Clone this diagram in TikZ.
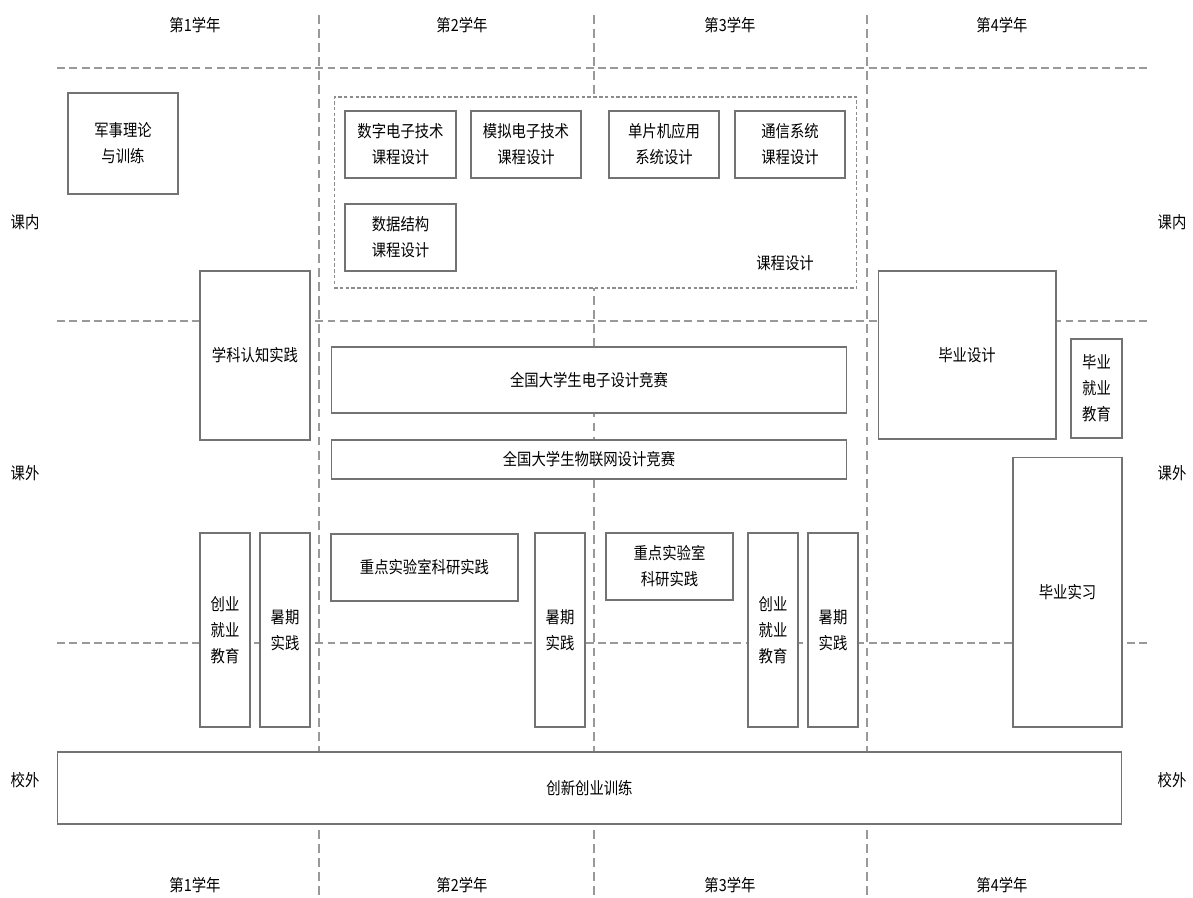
\documentclass[tikz,border=0pt]{standalone}
\usepackage{fontspec}
\setmainfont{Noto Sans CJK SC}[FakeStretch=0.86]
\usepackage{tikz}
\usetikzlibrary{calc}

\begin{document}
\begin{tikzpicture}[x=0.02cm,y=-0.02cm,
    txt/.style={font=\fontsize{9.5}{14.8}\selectfont,align=center,inner sep=0pt},
    box/.style={txt,draw=black!55,line width=0.6pt,fill=white,outer sep=0pt},
    grid/.style={draw=black!40,line width=0.6pt,dash pattern=on 4.5pt off 2.5pt}]
    \useasboundingbox (0,0) rectangle (1193,898);
    % year columns and rows
    \draw[grid,dash pattern=on 5pt off 3pt] (319,15) -- (319,898);
    \draw[grid,dash pattern=on 5pt off 3pt] (594,15) -- (594,898);
    \draw[grid,dash pattern=on 5pt off 3pt] (867,15) -- (867,898);
    \draw[grid] (57,68) -- (1147,68);
    \draw[grid] (57,321) -- (1147,321);
    \draw[grid] (57,643) -- (1147,643);

    \node[txt] (y1t) at (195,25) {第1学年};
    \node[txt] (y2t) at (462,25) {第2学年};
    \node[txt] (y3t) at (730,25) {第3学年};
    \node[txt] (y4t) at (1002,25) {第4学年};
    \node[txt] (y1b) at (195,885) {第1学年};
    \node[txt] (y2b) at (462,885) {第2学年};
    \node[txt] (y3b) at (730,885) {第3学年};
    \node[txt] (y4b) at (1002,885) {第4学年};
    \node[txt] (neiL) at (25,222) {课内};
    \node[txt] (neiR) at (1172,222) {课内};
    \node[txt] (waiL) at (25,473) {课外};
    \node[txt] (waiR) at (1172,473) {课外};
    \node[txt] (xiaoL) at (25,780) {校外};
    \node[txt] (xiaoR) at (1172,780) {校外};

    % course design group
    \node[draw=black!45,line width=0.6pt,dash pattern=on 2pt off 1.3pt,fill=white,
        minimum width=10.46cm,minimum height=3.82cm,inner sep=0pt] (kcsj) at (595.5,192.5) {};
    \node[txt] (kcsjlab) at (785,263) {课程设计};
    \node[box,minimum width=2.22cm,minimum height=1.34cm] (shuzi) at (400.5,144.5) {数字电子技术\\课程设计};
    \node[box,minimum width=2.2cm,minimum height=1.34cm] (moni) at (526,144.5) {模拟电子技术\\课程设计};
    \node[box,minimum width=2.2cm,minimum height=1.34cm] (danpian) at (664,144.5) {单片机应用\\系统设计};
    \node[box,minimum width=2.2cm,minimum height=1.34cm] (tongxin) at (790,144.5) {通信系统\\课程设计};
    \node[box,minimum width=2.22cm,minimum height=1.34cm] (shuju) at (400.5,237.5) {数据结构\\课程设计};

    \node[box,minimum width=2.2cm,minimum height=2.02cm] (junshi) at (123,143.5) {军事理论\\与训练};
    \node[box,minimum width=2.2cm,minimum height=3.38cm] (xueke) at (255,355.5) {学科认知实践};
    \node[box,minimum width=10.32cm,minimum height=1.32cm] (dianzi) at (589,380) {全国大学生电子设计竞赛};
    \node[box,minimum width=10.32cm,minimum height=0.78cm] (wulian) at (589,459.5) {全国大学生物联网设计竞赛};
    \node[box,minimum width=3.56cm,minimum height=3.36cm] (biyesj) at (967,355) {毕业设计};
    \node[box,minimum width=1.02cm,minimum height=1.98cm] (biyejy) at (1096.5,388.5) {毕业\\就业\\教育};
    \node[box,minimum width=2.18cm,minimum height=5.4cm] (biyesx) at (1067.5,592) {毕业实习};

    \node[box,minimum width=1cm,minimum height=3.88cm] (chuangye1) at (225,630) {创业\\就业\\教育};
    \node[box,minimum width=1cm,minimum height=3.88cm] (shuqi1) at (285,630) {暑期\\实践};
    \node[box,minimum width=3.74cm,minimum height=1.34cm] (zhongdian1) at (424.5,567.5) {重点实验室科研实践};
    \node[box,minimum width=1cm,minimum height=3.88cm] (shuqi2) at (560,630) {暑期\\实践};
    \node[box,minimum width=2.54cm,minimum height=1.34cm] (zhongdian2) at (669.5,566.5) {重点实验室\\科研实践};
    \node[box,minimum width=1cm,minimum height=3.88cm] (chuangye2) at (773,630) {创业\\就业\\教育};
    \node[box,minimum width=1cm,minimum height=3.88cm] (shuqi3) at (833,630) {暑期\\实践};

    \node[box,minimum width=21.3cm,minimum height=1.44cm] (chuangxin) at (589.5,788) {创新创业训练};
\end{tikzpicture}
\end{document}
